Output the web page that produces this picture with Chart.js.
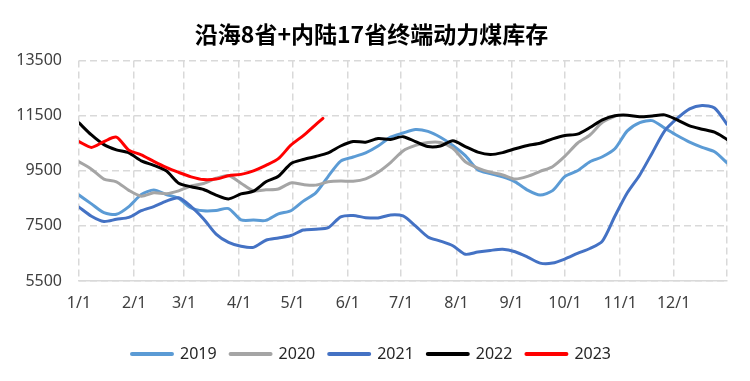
<!DOCTYPE html>
<html>
<head>
<meta charset="utf-8">
<script src="https://cdn.jsdelivr.net/npm/chart.js@4"></script>
<style>
  html, body { margin: 0; padding: 0; background: #fff; }
  #wrap { width: 750px; height: 381px; }
</style>
</head>
<body>
<div id="wrap"><canvas id="stockChart"></canvas></div>
<script>
  // day of year (0 = 1/1) for the weekly readings
  const dayOfYear = [0,7,14,21,28,35,42,49,56,63,70,77,84,91,98,105,112,119,126,133,140,147,154,161,168,175,182,189,196,203,210,217,224,231,238,245,252,259,266,273,280,287,294,301,308,315,322,329,336,343,350,357,364];
  const days2023 = [0,7,14,21,28,35,42,49,56,63,70,77,84,91,98,105,112,119,126,133,137];

  const monthTicks = [0,31,59,90,120,151,181,212,243,273,304,334,364];
  const monthLabels = ['1/1','2/1','3/1','4/1','5/1','6/1','7/1','8/1','9/1','10/1','11/1','12/1',''];

  const stock2019 = [8620,8300,7980,7920,8200,8640,8800,8640,8500,8150,8050,8060,8130,7720,7710,7700,7940,8050,8400,8700,9300,9850,10000,10150,10400,10720,10870,11000,10930,10720,10420,10050,9540,9400,9280,9100,8800,8620,8780,9300,9500,9830,10010,10300,10950,11250,11320,11050,10780,10540,10350,10190,9790];
  const stock2020 = [9830,9560,9200,9100,8790,8580,8700,8670,8770,8950,9040,9230,9330,9050,8770,8810,8840,9060,9000,8980,9100,9130,9120,9210,9450,9800,10220,10420,10530,10530,10320,9830,9600,9450,9350,9200,9300,9480,9650,10030,10500,10800,11260,11480];
  const stock2021 = [8180,7850,7660,7740,7810,8050,8200,8400,8520,8200,7750,7200,6900,6760,6720,6980,7060,7150,7350,7380,7440,7830,7880,7800,7790,7900,7860,7500,7100,6950,6780,6470,6550,6610,6650,6560,6370,6150,6150,6300,6500,6680,6950,7850,8700,9350,10150,10950,11400,11750,11870,11780,11190];
  const stock2022 = [11240,10800,10450,10260,10150,9860,9700,9500,9050,8920,8820,8620,8480,8660,8760,9100,9300,9760,9910,10020,10150,10400,10560,10540,10670,10640,10740,10560,10380,10400,10590,10380,10180,10090,10160,10300,10420,10500,10660,10780,10830,11070,11350,11500,11520,11460,11490,11530,11350,11130,11010,10900,10640];
  const stock2023 = [10560,10350,10560,10720,10250,10080,9840,9620,9440,9280,9180,9200,9320,9370,9500,9700,9940,10430,10780,11180,11400];

  const yMin = 5500, yMax = 13500, yStep = 2000;

  function toPoints(xs, ys) {
    return ys.map((v, i) => ({ x: xs[i], y: v }));
  }

  function line(label, xs, ys, color, order) {
    return {
      label: label,
      data: toPoints(xs, ys),
      borderColor: color,
      backgroundColor: color,
      borderWidth: 3,
      borderCapStyle: 'round',
      borderJoinStyle: 'round',
      pointRadius: 0,
      tension: 0.25,
      order: order
    };
  }

  const gridColor = '#d9d9d9';
  const gridDash = [7, 4];
  const tickFont = { family: 'Noto Sans', size: 16 };

  const stockCtx = document.getElementById('stockChart');
  const stockChart = new Chart(stockCtx, {
      type: 'line',
      data: {
          datasets: [
              line('2019', dayOfYear, stock2019, '#5B9BD5', 4),
              line('2020', dayOfYear, stock2020, '#A5A5A5', 3),
              line('2021', dayOfYear, stock2021, '#4472C4', 2),
              line('2022', dayOfYear, stock2022, '#000000', 1),
              line('2023', days2023, stock2023, '#FF0000', 0)
          ]
      },
      options: {
          responsive: true,
          maintainAspectRatio: false,
          animation: false,
          layout: { padding: { left: 16, right: 23, top: 0, bottom: 9 } },
          scales: {
              x: {
                  type: 'linear',
                  min: 0,
                  max: 364,
                  afterBuildTicks: (scale) => {
                      scale.ticks = monthTicks.map(v => ({ value: v }));
                  },
                  afterFit: (scale) => { scale.height = 51; },
                  ticks: {
                      autoSkip: false,
                      maxRotation: 0,
                      padding: 13,
                      color: '#404040',
                      font: tickFont,
                      callback: (value) => monthLabels[monthTicks.indexOf(value)]
                  },
                  grid: { color: gridColor, lineWidth: 1.5, drawTicks: false },
                  border: { display: true, color: gridColor, width: 1.5, dash: gridDash }
              },
              y: {
                  min: yMin,
                  max: yMax,
                  afterFit: (scale) => { scale.width = 63; },
                  ticks: {
                      stepSize: yStep,
                      padding: 17,
                      color: '#404040',
                      font: tickFont,
                      callback: (value) => String(value)
                  },
                  grid: { color: gridColor, lineWidth: 1.5, drawTicks: false },
                  border: { display: false, dash: gridDash }
              }
          },
          plugins: {
              title: {
                  display: true,
                  text: '沿海8省+内陆17省终端动力煤库存',
                  color: '#000000',
                  font: { family: 'Noto Sans CJK SC', size: 23, weight: 'bold' },
                  padding: { top: 20, bottom: 13 }
              },
              legend: {
                  position: 'bottom',
                  labels: {
                      usePointStyle: true,
                      pointStyle: 'line',
                      pointStyleWidth: 40,
                      padding: 14,
                      color: '#262626',
                      font: tickFont,
                      sort: (a, b) => a.datasetIndex - b.datasetIndex,
                      generateLabels: (chart) => Chart.defaults.plugins.legend.labels.generateLabels(chart)
                          .map(item => Object.assign(item, { lineWidth: 4, lineCap: 'round' }))
                  }
              },
              tooltip: { enabled: false }
          }
      }
  });
</script>
</body>
</html>
